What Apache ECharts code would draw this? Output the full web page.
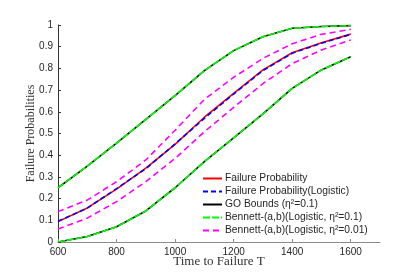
<!DOCTYPE html>
<html><head><meta charset="utf-8">
<script src="https://cdn.jsdelivr.net/npm/echarts@6/dist/echarts.min.js"></script>
<style>html,body{margin:0;padding:0;background:#fff}#c{width:415px;height:277px}</style>
</head><body><div id="c"></div>
<script>
const times = [600, 700, 800, 900, 1000, 1100, 1200, 1300, 1400, 1500, 1600];
const failureProb = [0.094, 0.157, 0.244, 0.340, 0.450, 0.575, 0.685, 0.793, 0.872, 0.918, 0.958];
const failureProbLogistic = [0.096, 0.156, 0.246, 0.338, 0.452, 0.570, 0.682, 0.790, 0.870, 0.916, 0.957];
const goUpper = [0.250, 0.350, 0.456, 0.565, 0.675, 0.790, 0.882, 0.946, 0.985, 0.993, 0.997];
const goLower = [0.000, 0.025, 0.070, 0.143, 0.250, 0.370, 0.480, 0.590, 0.708, 0.793, 0.854];
const bennett01Upper = goUpper;
const bennett01Lower = goLower;
const bennett001Upper = [0.140, 0.193, 0.278, 0.378, 0.515, 0.657, 0.759, 0.846, 0.914, 0.957, 0.980];
const bennett001Lower = [0.060, 0.110, 0.186, 0.278, 0.385, 0.508, 0.620, 0.730, 0.822, 0.885, 0.931];
const xTicks = [600, 800, 1000, 1200, 1400, 1600];
const names = ['Failure Probability', 'Failure Probability(Logistic)', 'GO Bounds (η²=0.1)',
  'Bennett-(a,b)(Logistic, η²=0.1)', 'Bennett-(a,b)(Logistic, η²=0.01)'];

const pair = arr => times.map((t, i) => [t, arr[i]]);
function line(name, arr, color, dash, z) {
  return { name, type: 'line', data: pair(arr), symbol: 'none', silent: true, z,
    lineStyle: { color, width: 1.6, type: dash ? dash : 'solid' },
    itemStyle: { color }, animation: false };
}
const chart = echarts.init(document.getElementById('c'), null, { renderer: 'canvas' });
chart.setOption({
  animation: false,
  grid: { left: 58, right: 35, top: 25, bottom: 35 },
  xAxis: {
    type: 'value', min: 600, max: 1700, interval: 200,
    name: 'Time to Failure T', nameLocation: 'middle', nameGap: 13, nameMoveOverlap: false,
    nameTextStyle: { fontFamily: 'Liberation Serif', fontSize: 13, color: '#333' },
    axisLine: { lineStyle: { color: '#8c8c8c', width: 1 } },
    axisTick: { inside: true, length: 3, lineStyle: { color: '#8c8c8c' }, customValues: xTicks },
    axisLabel: { fontFamily: 'Liberation Sans', fontSize: 10, color: '#262626', margin: 5,
      customValues: xTicks, formatter: v => String(v) },
    splitLine: { show: false }
  },
  yAxis: {
    type: 'value', min: 0, max: 1, interval: 0.1,
    name: 'Failure Probabilities', nameLocation: 'middle', nameGap: 21, nameRotate: 90, nameMoveOverlap: false,
    nameTextStyle: { fontFamily: 'Liberation Serif', fontSize: 12, color: '#333' },
    axisLine: { show: true, lineStyle: { color: '#333', width: 1 } },
    axisTick: { show: true, inside: true, length: 3, lineStyle: { color: '#333' } },
    axisLabel: { fontFamily: 'Liberation Sans', fontSize: 10, color: '#262626', margin: 5,
      formatter: v => String(Math.round(v * 10) / 10) },
    splitLine: { show: false }
  },
  legend: {
    orient: 'vertical', left: 202, top: 172, itemGap: 0, itemWidth: 19, itemHeight: 10,
    data: names,
    itemStyle: { opacity: 0 },
    textStyle: { fontFamily: 'Liberation Sans', fontSize: 10.3, lineHeight: 13, color: '#262626', padding: [0, 0, 0, -2] },
    padding: 0
  },
  series: [
    line(names[0], failureProb, '#ff0000', null, 2),
    line(names[1], failureProbLogistic, '#0000ff', [5, 3], 3),
    line(names[2], goUpper, '#000000', null, 4),
    line(names[2], goLower, '#000000', null, 4),
    line(names[3], bennett01Upper, '#00ff00', [7, 2], 5),
    line(names[3], bennett01Lower, '#00ff00', [7, 2], 5),
    line(names[4], bennett001Upper, '#ff00ff', [6, 4], 6),
    line(names[4], bennett001Lower, '#ff00ff', [6, 4], 6)
  ]
});
</script></body></html>
